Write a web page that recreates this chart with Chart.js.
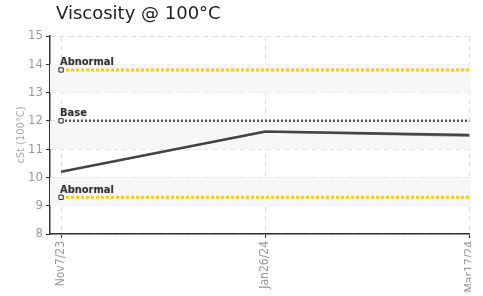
<!DOCTYPE html>
<html>
<head>
<meta charset="utf-8">
<script src="https://cdn.jsdelivr.net/npm/chart.js@4.4.1/dist/chart.umd.min.js"></script>
<style>
  body { margin: 0; background: #fff; }
  #title { position: absolute; left: 56px; top: 2px; font: 18px "DejaVu Sans", sans-serif; color: #222; }
  #clip { position: absolute; left: 0; top: 0; width: 471px; height: 296px; overflow: hidden; }
  #box { width: 487px; height: 296px; }
</style>
</head>
<body>
<div id="clip"><div id="box"><canvas id="chart"></canvas></div></div>
<div id="title">Viscosity @ 100°C</div>
<script>
// data
const dates = ["Nov7/23", "Jan26/24", "Mar17/24"];
const viscosity = [10.2, 11.62, 11.5];
const viscosity2 = [10.2, 11.6, 11.45];
const abnormalHigh = 13.8;
const abnormalLow = 9.3;
const baseValue = 12.0;
const yTicks = [8, 9, 10, 11, 12, 13, 14, 15];

const narrow = "'Liberation Sans Narrow', 'DejaVu Sans Condensed', sans-serif";

function flat(v) {
  return dates.map((d, i) => ({ x: i, y: v }));
}
function pts(arr) {
  return arr.map((v, i) => ({ x: i, y: v }));
}

function refLine(label, v, color, dash, width) {
  return {
    label: label,
    data: flat(v),
    borderColor: color,
    borderWidth: width,
    borderDash: dash,
    pointStyle: "rect",
    pointRadius: [3, 0, 0],
    pointBackgroundColor: "#fff",
    pointBorderColor: "#222",
    pointBorderWidth: 1,
    refLabel: label,
  };
}

// alternating grey bands between grid lines
const bandPlugin = {
  id: "bands",
  beforeDatasetsDraw(chart) {
    const { ctx, chartArea, scales } = chart;
    ctx.save();
    ctx.fillStyle = "#f7f7f7";
    [9, 11, 13].forEach((v) => {
      const top = scales.y.getPixelForValue(v + 1);
      const bot = scales.y.getPixelForValue(v);
      ctx.fillRect(chartArea.left, top, chartArea.right - chartArea.left, bot - top);
    });
    ctx.restore();
  },
};

// little text labels above the reference lines
const refLabelPlugin = {
  id: "refLabels",
  afterDatasetsDraw(chart) {
    const { ctx } = chart;
    ctx.save();
    ctx.font = "bold 11px " + narrow;
    ctx.fillStyle = "#333";
    ctx.textBaseline = "bottom";
    ctx.shadowColor = "rgba(0,0,0,0.25)";
    ctx.shadowBlur = 1.5;
    chart.data.datasets.forEach((ds, i) => {
      if (!ds.refLabel) return;
      const p = chart.getDatasetMeta(i).data[0];
      ctx.fillText(ds.refLabel, p.x - 1, p.y - 2);
    });
    ctx.restore();
  },
};

new Chart(document.getElementById("chart"), {
  type: "line",
  data: {
    datasets: [
      {
        label: "cSt",
        data: pts(viscosity),
        borderColor: "#444",
        borderWidth: 2.5,
        pointRadius: 0,
        tension: 0,
      },
      {
        label: "cSt 2",
        data: pts(viscosity2),
        borderColor: "#999",
        borderWidth: 1.2,
        pointRadius: 0,
        tension: 0,
      },
      refLine("Abnormal", abnormalHigh, "#ffcc00", [3, 2], 3),
      refLine("Base", baseValue, "#555", [2, 2], 2.5),
      refLine("Abnormal", abnormalLow, "#ffcc00", [3, 2], 3),
    ],
  },
  options: {
    responsive: true,
    maintainAspectRatio: false,
    animation: false,
    layout: { padding: { top: 36, left: 0, right: 0, bottom: 0 } },
    plugins: {
      legend: { display: false },
      tooltip: { enabled: false },
    },
    scales: {
      x: {
        type: "linear",
        min: -0.054,
        max: 2,
        afterBuildTicks(scale) {
          scale.ticks = dates.map((d, i) => ({ value: i }));
        },
        afterFit(scale) {
          scale.height = 62;
        },
        ticks: {
          autoSkip: false,
          maxRotation: 90,
          minRotation: 90,
          color: "#999",
          font: { family: narrow, size: 12 },
          callback: (v) => dates[v],
        },
        grid: {
          color: "#ddd",
          tickColor: "#333",
          tickLength: 4,
          drawOnChartArea: true,
        },
        border: { color: "#333", width: 1.5, dash: [5, 4] },
      },
      y: {
        min: 8,
        max: 15,
        afterBuildTicks(scale) {
          scale.ticks = yTicks.map((v) => ({ value: v }));
        },
        afterFit(scale) {
          scale.width = 50;
        },
        title: {
          display: true,
          text: "cSt (100°C)",
          color: "#aaa",
          font: { family: narrow, size: 11 },
          padding: { top: 15, bottom: 0 },
        },
        ticks: {
          color: "#999",
          font: { family: narrow, size: 13 },
          padding: 3,
        },
        grid: {
          color: "#ddd",
          tickColor: "#333",
          tickLength: 4,
        },
        border: { color: "#333", width: 1.5, dash: [5, 4] },
      },
    },
  },
  plugins: [bandPlugin, refLabelPlugin],
});
</script>
</body>
</html>
